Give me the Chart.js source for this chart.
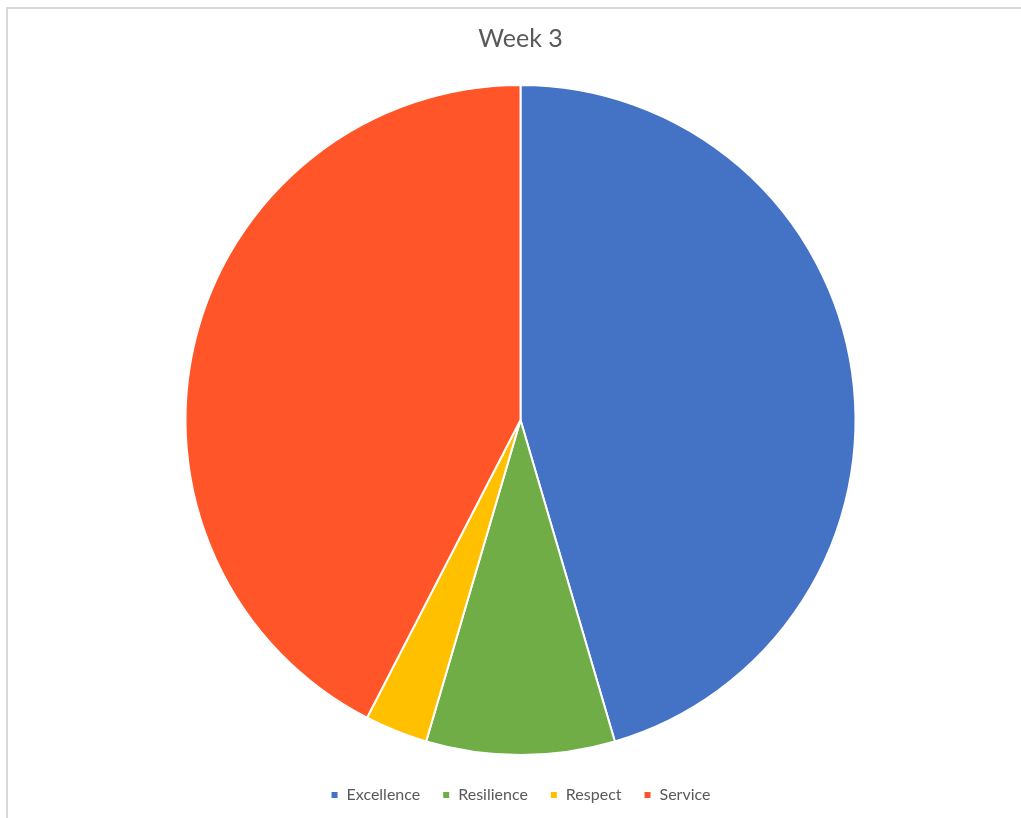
<!DOCTYPE html>
<html>
<head>
<meta charset="utf-8">
<script src="https://cdn.jsdelivr.net/npm/chart.js@4.4.1/dist/chart.umd.min.js"></script>
<style>
  html, body { margin: 0; padding: 0; background: #ffffff; }
  #wrap { position: relative; width: 1021px; height: 818px; overflow: hidden; }
  #frame { position: absolute; left: 6px; top: 7px; width: 1100px; height: 900px;
           border-left: 2px solid #d9d9d9; border-top: 2px solid #d9d9d9; box-sizing: border-box; }
  canvas { position: absolute; left: 0; top: 0; }
</style>
</head>
<body>
<div id="wrap">
  <div id="frame"></div>
  <canvas id="c" width="1021" height="818"></canvas>
</div>
<script>
const chartTitle = "Week 3";
const categories = ["Excellence", "Resilience", "Respect", "Service"];
const values = [15, 3, 1, 14];
const colors = ["#4472C4", "#70AD47", "#FFC000", "#FF5528"];

new Chart(document.getElementById("c"), {
  type: "pie",
  data: {
    labels: categories,
    datasets: [{
      data: values,
      backgroundColor: colors,
      borderColor: "#ffffff",
      borderWidth: 2,
      radius: 335
    }]
  },
  options: {
    responsive: false,
    animation: false,
    layout: { padding: { top: 20, bottom: 5, left: 20, right: 0 } },
    plugins: {
      title: {
        display: true,
        text: chartTitle,
        color: "#595959",
        font: { family: "Lato, 'Open Sans', sans-serif", size: 25, weight: "normal" },
        padding: { top: 4, bottom: 21 }
      },
      legend: {
        position: "bottom",
        labels: {
          color: "#595959",
          font: { family: "Lato, 'Open Sans', sans-serif", size: 16 },
          boxWidth: 8,
          boxHeight: 8,
          padding: 22
        }
      },
      tooltip: { enabled: false }
    }
  }
});
</script>
</body>
</html>
